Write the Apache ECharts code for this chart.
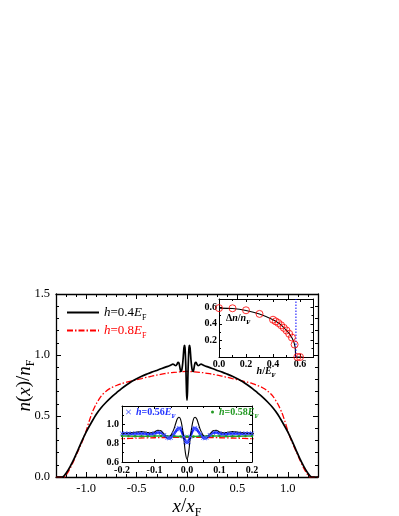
<!DOCTYPE html>
<html><head><meta charset="utf-8">
<script src="https://cdn.jsdelivr.net/npm/echarts@6/dist/echarts.min.js"></script>
<style>html,body{margin:0;padding:0;background:#fff}#c{width:399px;height:516px}</style>
</head><body><div id="c"></div>
<script>
// ---------- data ----------
const blackX = [-1.30,-1.24,-1.22,-1.20,-1.16,-1.12,-1.08,-1.04,-1.00,-0.95,-0.90,-0.85,-0.80,-0.75,-0.70,-0.65,-0.60,-0.55,-0.50,-0.45,-0.40,-0.35,-0.30,-0.25,-0.20,-0.18,-0.16,-0.14,-0.13,-0.12,-0.11,-0.10,-0.09,-0.08,-0.07,-0.062,-0.055,-0.05,-0.045,-0.04,-0.035,-0.03,-0.025,-0.02,-0.015,-0.01,-0.005,0,
  0.005,0.01,0.015,0.02,0.025,0.03,0.035,0.04,0.045,0.05,0.055,0.062,0.07,0.08,0.09,0.10,0.11,0.12,0.13,0.14,0.16,0.18,0.20,0.25,0.30,0.35,0.40,0.45,0.50,0.55,0.60,0.65,0.70,0.75,0.80,0.85,0.90,0.95,1.00,1.04,1.08,1.12,1.16,1.20,1.22,1.24,1.30];
const blackY = [0,0,0.01,0.03,0.085,0.15,0.225,0.30,0.37,0.445,0.515,0.57,0.615,0.655,0.69,0.725,0.755,0.783,0.805,0.825,0.843,0.86,0.873,0.89,0.905,0.91,0.918,0.925,0.922,0.915,0.912,0.922,0.94,0.935,0.895,0.865,0.87,0.885,0.915,0.955,1.01,1.06,1.08,1.06,0.98,0.86,0.70,0.63,
  0.70,0.86,0.98,1.06,1.08,1.06,1.01,0.955,0.915,0.885,0.87,0.865,0.895,0.935,0.94,0.922,0.912,0.915,0.922,0.925,0.918,0.91,0.905,0.89,0.873,0.86,0.843,0.825,0.805,0.783,0.755,0.725,0.69,0.655,0.615,0.57,0.515,0.445,0.37,0.30,0.225,0.15,0.085,0.03,0.01,0,0];

const redX = [-1.30,-1.22,-1.20,-1.16,-1.12,-1.08,-1.04,-1.00,-0.97,-0.94,-0.90,-0.85,-0.80,-0.75,-0.70,-0.65,-0.60,-0.55,-0.50,-0.45,-0.40,-0.35,-0.30,-0.25,-0.20,-0.15,-0.10,-0.05,0,
  0.05,0.10,0.15,0.20,0.25,0.30,0.35,0.40,0.45,0.50,0.55,0.60,0.65,0.70,0.75,0.80,0.85,0.90,0.94,0.97,1.00,1.04,1.08,1.12,1.16,1.20,1.22,1.30];
const redY = [0,0,0.015,0.07,0.14,0.215,0.29,0.38,0.46,0.53,0.60,0.665,0.705,0.732,0.75,0.765,0.777,0.787,0.797,0.807,0.817,0.826,0.835,0.843,0.85,0.856,0.86,0.863,0.865,
  0.863,0.86,0.856,0.85,0.843,0.835,0.826,0.817,0.807,0.797,0.787,0.777,0.765,0.75,0.732,0.705,0.665,0.60,0.53,0.46,0.38,0.29,0.215,0.14,0.07,0.015,0,0];

const blueX = [-0.20,-0.19,-0.18,-0.17,-0.16,-0.15,-0.14,-0.13,-0.12,-0.11,-0.10,-0.09,-0.08,-0.07,-0.06,-0.055,-0.05,-0.04,-0.03,-0.025,-0.02,-0.01,-0.005,0,
  0.005,0.01,0.02,0.025,0.03,0.04,0.05,0.055,0.06,0.07,0.08,0.09,0.10,0.11,0.12,0.13,0.14,0.15,0.16,0.17,0.18,0.19,0.20];
const blueY = [0.905,0.906,0.905,0.904,0.905,0.906,0.906,0.904,0.90,0.90,0.907,0.915,0.912,0.89,0.86,0.855,0.86,0.90,0.95,0.963,0.955,0.87,0.82,0.805,
  0.82,0.87,0.955,0.963,0.95,0.90,0.86,0.855,0.86,0.89,0.912,0.915,0.907,0.90,0.90,0.904,0.906,0.906,0.905,0.904,0.905,0.906,0.905];

const greenX = [-0.20,-0.18,-0.16,-0.14,-0.12,-0.10,-0.08,-0.06,-0.04,-0.02,0,0.02,0.04,0.06,0.08,0.10,0.12,0.14,0.16,0.18,0.20];
const greenY = [0.878,0.878,0.877,0.877,0.877,0.878,0.878,0.875,0.876,0.874,0.872,0.874,0.876,0.875,0.878,0.878,0.877,0.877,0.877,0.878,0.878];

const hCirc  = [0,0.1,0.2,0.3,0.4,0.42,0.44,0.46,0.48,0.50,0.52,0.54,0.56,0.58,0.60];
const dnCirc = [0.59,0.588,0.564,0.52,0.45,0.43,0.41,0.383,0.352,0.32,0.28,0.235,0.15,0.0,0.0];
const hLine  = [0,0.1,0.2,0.3,0.4,0.45,0.5,0.53,0.55,0.56,0.565,0.57,0.62];
const dnLine = [0.59,0.585,0.562,0.52,0.45,0.40,0.32,0.26,0.2,0.15,0.1,0.0,0.0];
const vLineX = [0.57,0.57];
const vLineY = [0,0.7];

// tick values
const mainXLabels = [-1,-0.5,0,0.5,1];
const mainXMinor = [-1.3,-1.2,-1.1,-0.9,-0.8,-0.7,-0.6,-0.4,-0.3,-0.2,-0.1,0.1,0.2,0.3,0.4,0.6,0.7,0.8,0.9,1.1,1.2,1.3];
const mainYLabels = [0,0.5,1.0,1.5];
const mainYMinor = [0.1,0.2,0.3,0.4,0.6,0.7,0.8,0.9,1.1,1.2,1.3,1.4];
const in1XMajor = [0,0.2,0.4,0.6];
const in1XLabels = [0,0.2,0.4,0.6];
const in1XMinor = [0.1,0.3,0.5];
const in1YMajor = [0,0.2,0.4,0.6];
const in1YLabels = [0.2,0.4,0.6];
const in1YMinor = [0.1,0.3,0.5];
const in2XMajor = [-0.2,-0.1,0,0.1,0.2];
const in2XLabels = [-0.2,-0.1,0,0.1,0.2];
const in2XMinor = [-0.15,-0.05,0.05,0.15];
const in2YMajor = [0.6,0.8,1.0,1.2];
const in2YLabels = [0.6,0.8,1.0];
const in2YMinor = [0.7,0.9,1.1];

// ---------- chart ----------
const FONT = 'Liberation Serif';
const zip = (xs, ys) => xs.map((x, i) => [x, ys[i]]);
const crossPath = 'path://M0,1L1,0L5,4L9,0L10,1L6,5L10,9L9,10L5,6L1,10L0,9L4,5Z';

function axisSet(dim, gridIndex, min, max, major, minor, labels, o) {
  const pos = dim === 'x' ? ['bottom', 'top'] : ['left', 'right'];
  const mk = (p, vals, len, showLine, lab) => Object.assign({
    type: 'value', gridIndex, min, max, position: p, z: o.z || 0,
    nameMoveOverlap: false,
    splitLine: { show: false },
    axisLine: { show: showLine, onZero: false, lineStyle: { color: '#000', width: o.lw } },
    axisTick: { show: true, inside: true, length: len, customValues: vals, lineStyle: { color: '#000', width: 1 } },
    axisLabel: lab ? Object.assign({ show: true, customValues: labels, formatter: v => v.toFixed(1), color: '#000', fontFamily: FONT }, o.label) : { show: false }
  }, lab ? (o.name || {}) : {});
  return [mk(pos[0], major, o.major, true, true), mk(pos[0], minor, o.minor, false, false),
          mk(pos[1], major, o.major, true, false), mk(pos[1], minor, o.minor, false, false)];
}

const subRich = (size, color, bold) => ({
  i: { fontFamily: FONT, fontSize: size, fontStyle: 'italic', fontWeight: bold ? 'bold' : 'normal', color, lineHeight: size + 6 },
  r: { fontFamily: FONT, fontSize: size, fontWeight: bold ? 'bold' : 'normal', color, lineHeight: size + 6 },
  s: { fontFamily: FONT, fontSize: Math.round(size * 0.65), fontWeight: bold ? 'bold' : 'normal', color, lineHeight: Math.round(size * 0.65) + 1, verticalAlign: 'bottom' }
});

const xAxes = [].concat(
  axisSet('x', 0, -1.3, 1.3, mainXLabels, mainXMinor, mainXLabels, {
    lw: 1.3, major: 5, minor: 3, label: { fontSize: 12.5, margin: 5 },
    name: { name: '{i|x}{r|/}{i|x}{s|F}', nameLocation: 'middle', nameGap: 17, nameTextStyle: { rich: subRich(19, '#000') } }
  }),
  axisSet('x', 1, 0, 0.7, in1XMajor, in1XMinor, in1XLabels, {
    lw: 1, major: 3, minor: 2, z: 12, label: { fontSize: 10, fontWeight: 'bold', margin: 2 },
    name: { name: '{i|h}{r|/}{i|E}{s|F}', nameLocation: 'middle', nameGap: 6, nameTextStyle: { rich: subRich(10, '#000', true) } }
  }),
  axisSet('x', 2, -0.2, 0.2, in2XMajor, in2XMinor, in2XLabels, {
    lw: 1, major: 3, minor: 2, z: 12, label: { fontSize: 10, fontWeight: 'bold', margin: 3 }
  })
);
const yAxes = [].concat(
  axisSet('y', 0, 0, 1.5, mainYLabels, mainYMinor, mainYLabels, {
    lw: 1.3, major: 5, minor: 3, label: { fontSize: 12.5, margin: 6 },
    name: { name: '{i|n}{r|(}{i|x}{r|)/}{i|n}{s|F}', nameLocation: 'middle', nameRotate: 90, nameGap: 19, nameTextStyle: { rich: subRich(19, '#000') } }
  }),
  axisSet('y', 1, 0, 0.7, in1YMajor, in1YMinor, in1YLabels, {
    lw: 1, major: 3, minor: 2, z: 12, label: { fontSize: 10, fontWeight: 'bold', margin: 2 }
  }),
  axisSet('y', 2, 0.6, 1.2, in2YMajor, in2YMinor, in2YLabels, {
    lw: 1, major: 3, minor: 2, z: 12, label: { fontSize: 10, fontWeight: 'bold', margin: 3 }
  })
);

const legendRich = Object.assign({},
  (() => { const r = subRich(13, '#000'); return { ki: r.i, kn: r.r, ks: r.s }; })(),
  (() => { const r = subRich(13, '#ff0000'); return { ri: r.i, rn: r.r, rs: r.s }; })(),
  (() => { const r = subRich(10, '#2233ff', true); return { bi: r.i, bn: r.r, bs: r.s }; })(),
  (() => { const r = subRich(10, '#229922', true); return { gi: r.i, gn: r.r, gs: r.s }; })()
);
const legendText = {
  'h=0.4': '{ki|h}{kn|=0.4}{ki|E}{ks|F}',
  'h=0.8': '{ri|h}{rn|=0.8}{ri|E}{rs|F}',
  'h=0.56': '{bi|h}{bn|=0.56}{bi|E}{bs|F}',
  'h=0.58': '{gi|h}{gn|=0.58}{gi|E}{gs|F}'
};

const option = {
  animation: false,
  backgroundColor: '#fff',
  grid: [
    { left: 56, top: 294, width: 262, height: 183, outerBoundsMode: 'none', containLabel: false },
    { left: 219, top: 299, width: 94.5, height: 58, show: true, backgroundColor: '#fff', borderWidth: 0, z: 10, outerBoundsMode: 'none', containLabel: false },
    { left: 122, top: 406, width: 130, height: 56, show: true, backgroundColor: '#fff', borderWidth: 0, z: 10, outerBoundsMode: 'none', containLabel: false }
  ],
  xAxis: xAxes,
  yAxis: yAxes,
  legend: [
    { left: 66, top: 306, orient: 'vertical', padding: 0, itemGap: 2, itemWidth: 32, itemHeight: 1, selectedMode: false,
      data: ['h=0.4', 'h=0.8'], formatter: n => legendText[n], textStyle: { rich: legendRich } },
    { left: 126, top: 407, padding: 0, itemWidth: 5, itemHeight: 5, selectedMode: false, z: 14,
      data: [{ name: 'h=0.56', icon: crossPath }], formatter: n => legendText[n], textStyle: { rich: legendRich } },
    { left: 211, top: 407, padding: 0, itemWidth: 3, itemHeight: 3, selectedMode: false, z: 14,
      data: [{ name: 'h=0.58', icon: 'circle' }], formatter: n => legendText[n], textStyle: { rich: legendRich } }
  ],
  graphic: [
    { type: 'text', left: 226, top: 313, z: 20,
      style: { text: '{r|Δ}{i|n}{r|/}{i|n}{s|F}', rich: subRich(10, '#000', true) } }
  ],
  series: [
    { name: 'h=0.4', type: 'line', xAxisIndex: 0, yAxisIndex: 0, data: zip(blackX, blackY), symbol: 'none', smooth: 0.3, z: 3,
      lineStyle: { color: '#000', width: 1.7 }, itemStyle: { color: '#000' } },
    { name: 'h=0.8', type: 'line', xAxisIndex: 0, yAxisIndex: 0, data: zip(redX, redY), symbol: 'none', smooth: 0.3, z: 2,
      lineStyle: { color: '#ff0000', width: 1.3, type: [6, 2, 1.5, 2] }, itemStyle: { color: '#ff0000' } },

    { name: 'line fit', type: 'line', xAxisIndex: 4, yAxisIndex: 4, data: zip(hLine, dnLine), symbol: 'none', smooth: 0.3, z: 13,
      lineStyle: { color: '#000', width: 1.1 } },
    { name: 'hc', type: 'line', xAxisIndex: 4, yAxisIndex: 4, data: zip(vLineX, vLineY), symbol: 'none', z: 13,
      lineStyle: { color: '#0000ff', width: 1, type: [1.5, 1.5] } },
    { name: 'dn', type: 'scatter', xAxisIndex: 4, yAxisIndex: 4, data: zip(hCirc, dnCirc), symbol: 'circle', symbolSize: 7, z: 14,
      itemStyle: { color: 'rgba(0,0,0,0)', borderColor: '#ff0000', borderWidth: 1 } },

    { name: 'h=0.8 zoom', type: 'line', xAxisIndex: 8, yAxisIndex: 8, data: zip(redX, redY), symbol: 'none', smooth: 0.3, z: 13,
      lineStyle: { color: '#ff0000', width: 1.3, type: [6, 2, 1.5, 2] } },
    { name: 'h=0.58', type: 'line', xAxisIndex: 8, yAxisIndex: 8, data: zip(greenX, greenY), symbol: 'circle', symbolSize: 2.5, showSymbol: true, z: 13,
      lineStyle: { color: '#22aa22', width: 1.5 }, itemStyle: { color: '#229922' } },
    { name: 'h=0.56', type: 'line', xAxisIndex: 8, yAxisIndex: 8, data: zip(blueX, blueY), symbol: crossPath, symbolSize: 4.5, showSymbol: true, smooth: 0.3, z: 13,
      lineStyle: { color: '#1020ff', width: 2.5 }, itemStyle: { color: '#4a5cff' } },
    { name: 'h=0.4 zoom', type: 'line', xAxisIndex: 8, yAxisIndex: 8, data: zip(blackX, blackY), symbol: 'none', smooth: 0.3, z: 13,
      lineStyle: { color: '#000', width: 1.1 } }
  ]
};
const chart = echarts.init(document.getElementById('c'), null, { renderer: 'canvas' });
chart.setOption(option);
</script></body></html>
